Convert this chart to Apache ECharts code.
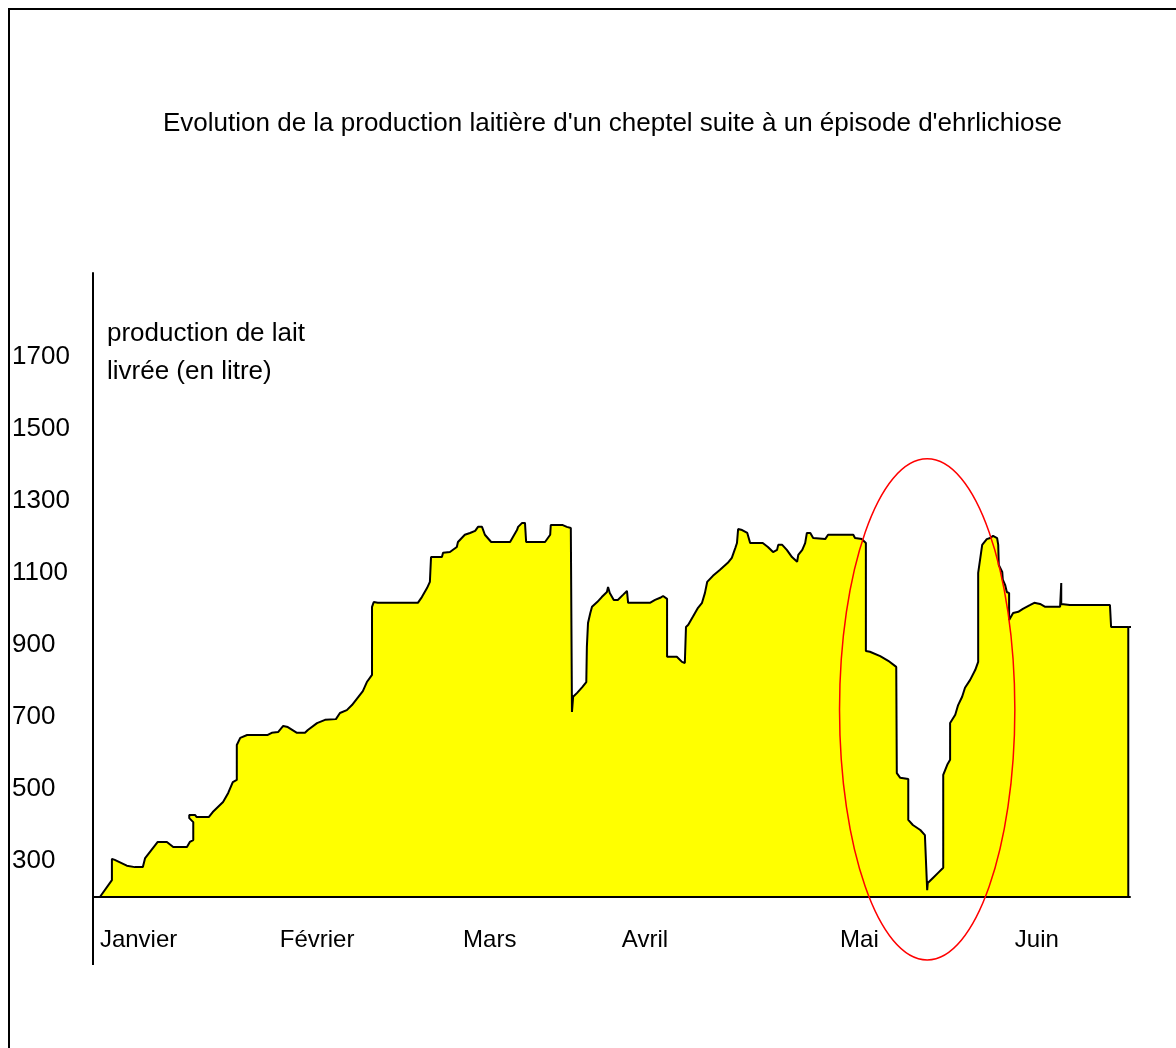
<!DOCTYPE html>
<html>
<head>
<meta charset="utf-8">
<script src="https://cdn.jsdelivr.net/npm/echarts@6/dist/echarts.min.js"></script>
<style>
  html, body { margin: 0; padding: 0; background: #ffffff; }
  #chart { width: 1176px; height: 1048px; }
</style>
</head>
<body>
<div id="chart"></div>
<script>
// ---- Texts ----
const titleText = "Evolution de la production laitière d'un cheptel suite à un épisode d'ehrlichiose";
const yAxisNameLines = ['production de lait', 'livrée (en litre)'];

// ---- Axis labels ----
const monthLabels = ['Janvier', 'Février', 'Mars', 'Avril', 'Mai', 'Juin'];
const monthLabelDays = [1.2, 32.6, 64.6, 92.3, 130.4, 160.9];
const yTickLabels = [300, 500, 700, 900, 1100, 1300, 1500, 1700];

// ---- Milk delivered: day of the year (from 1 January) and litres ----
const productionDays = [
  0, 1.2, 3.3, 3.3, 3.8, 5.9, 7.3, 8.7, 9.1, 11.3,
  12.9, 14.0, 16.4, 16.9, 17.5, 17.5, 16.8, 16.8, 17.8, 18.1,
  20.2, 20.9, 22.7, 23.6, 24.4, 25.1, 25.1, 25.7, 26.9, 30.5,
  31.2, 32.3, 33.2, 34.0, 35.6, 37.0, 37.5, 39.1, 40.5, 42.4,
  43.1, 44.3, 45.2, 47.1, 47.8, 48.7, 48.7, 49.0, 49.7, 56.7,
  57.4, 58.3, 58.8, 59.0, 60.9, 61.1, 62.3, 63.5, 63.7, 64.9,
  65.8, 66.7, 67.2, 67.9, 68.4, 69.5, 72.8, 73.3, 74.0, 74.2,
  74.9, 75.4, 75.6, 78.9, 79.8, 79.9, 82.0, 82.7, 83.4, 83.6,
  83.8, 84.5, 85.4, 86.1, 86.2, 86.4, 86.8, 87.1, 88.0, 88.8,
  89.7, 89.9, 90.2, 90.9, 91.6, 92.5, 93.2, 93.4, 97.2, 98.1,
  99.0, 99.5, 100.2, 100.2, 101.9, 102.8, 103.3, 103.5, 103.9, 104.7,
  105.6, 106.3, 106.8, 107.2, 108.2, 109.4, 110.8, 111.5, 112.1, 112.4,
  112.6, 113.3, 114.2, 114.7, 116.9, 117.8, 118.7, 119.4, 119.6, 120.3,
  121.1, 122.0, 122.9, 123.1, 123.8, 124.3, 124.6, 125.2, 125.7, 127.8,
  128.3, 132.7, 133.0, 134.2, 134.9, 134.9, 135.6, 137.4, 138.8, 140.2,
  140.3, 140.9, 142.3, 142.3, 143.1, 144.4, 145.2, 145.6, 145.7, 146.6,
  147.5, 148.4, 148.4, 149.1, 149.6, 149.6, 150.5, 151.0, 151.7, 152.2,
  153.1, 154.0, 154.5, 154.5, 155.2, 156.0, 156.6, 157.1, 157.8, 158.0,
  158.1, 158.7, 158.8, 159.2, 159.5, 159.9, 159.9, 160.6, 161.5, 162.3,
  163.6, 164.3, 165.3, 166.2, 168.8, 169.0, 169.0, 169.3, 170.5, 177.5,
  177.7, 180.7, 180.7
];
const productionLitres = [
  200, 200, 247, 306, 303, 287, 283, 283, 308, 353,
  353, 339, 339, 353, 358, 408, 419, 428, 428, 422,
  422, 436, 464, 489, 519, 525, 622, 642, 650, 650,
  656, 658, 675, 672, 656, 656, 664, 683, 692, 694,
  711, 719, 733, 772, 797, 817, 1006, 1019, 1017, 1017,
  1033, 1058, 1075, 1144, 1144, 1156, 1158, 1172, 1186, 1206,
  1211, 1217, 1228, 1228, 1206, 1186, 1186, 1200, 1219, 1228,
  1239, 1239, 1186, 1186, 1206, 1233, 1233, 1228, 1225, 714,
  756, 767, 783, 797, 894, 961, 989, 1006, 1019, 1033,
  1047, 1061, 1044, 1025, 1025, 1039, 1050, 1017, 1017, 1025,
  1031, 1036, 1028, 867, 867, 853, 850, 950, 956, 978,
  1003, 1017, 1044, 1075, 1092, 1108, 1128, 1142, 1169, 1183,
  1222, 1219, 1211, 1183, 1183, 1172, 1158, 1164, 1178, 1178,
  1164, 1144, 1131, 1150, 1164, 1183, 1211, 1211, 1197, 1194,
  1206, 1206, 1197, 1194, 1183, 883, 881, 869, 856, 839,
  544, 531, 528, 414, 400, 386, 372, 219, 239, 253,
  267, 281, 539, 567, 581, 683, 706, 733, 756, 781,
  803, 831, 853, 1100, 1178, 1194, 1197, 1203, 1197, 1178,
  1122, 1103, 1081, 1067, 1047, 1044, 969, 989, 992, 1000,
  1011, 1017, 1014, 1006, 1006, 1072, 1014, 1017, 1011, 1011,
  950, 950, 200
];

// Last delivery trace, drawn past the end of the filled period
const tailDays = [180.7, 182.2, 182.2];
const tailLitres = [950, 950, 961];

// Ellipse around the drop in May (centre and half-extent in day / litre units)
const dropCentre = [145.6, 721];
const dropHalfExtent = [15.3, 696];

const FONT = '"Liberation Sans", Arial, sans-serif';

const productionPoints = productionDays.map((d, i) => [d, productionLitres[i]]);
const tailPoints = tailDays.map((d, i) => [d, tailLitres[i]]);

const chart = echarts.init(document.getElementById('chart'), null, { renderer: 'canvas' });

chart.setOption({
  animation: false,
  backgroundColor: '#ffffff',
  textStyle: { fontFamily: FONT, color: '#000' },
  title: {
    text: titleText,
    left: 158,
    top: 106,
    textStyle: { fontFamily: FONT, fontSize: 26, fontWeight: 'normal', color: '#000' }
  },
  grid: { left: 93, top: 273, width: 1037, height: 624, containLabel: false },
  xAxis: {
    type: 'value',
    min: 0,
    max: 181,
    z: 4,
    axisLine: { show: true, lineStyle: { color: '#000', width: 2 } },
    axisTick: { show: false },
    splitLine: { show: false },
    axisLabel: {
      customValues: monthLabelDays,
      formatter: (v) => {
        const i = monthLabelDays.indexOf(v);
        return i >= 0 ? monthLabels[i] : '';
      },
      align: 'left',
      verticalAlign: 'middle',
      margin: 43,
      fontSize: 24,
      fontFamily: FONT,
      color: '#000'
    }
  },
  yAxis: {
    type: 'value',
    min: 200,
    max: 1933,
    interval: 100,
    z: 4,
    name: yAxisNameLines.join('\n'),
    nameLocation: 'end',
    nameGap: -80,
    nameMoveOverlap: false,
    nameTextStyle: {
      align: 'left',
      verticalAlign: 'middle',
      lineHeight: 38,
      fontSize: 26,
      fontFamily: FONT,
      color: '#000',
      padding: [0, 0, 0, 14]
    },
    axisLine: { show: true, lineStyle: { color: '#000', width: 2 } },
    axisTick: { show: false },
    splitLine: { show: false },
    axisLabel: {
      formatter: (v) => (yTickLabels.indexOf(v) >= 0 ? String(v) : ''),
      align: 'left',
      margin: 81,
      fontSize: 26,
      fontFamily: FONT,
      color: '#000',
      showMinLabel: true,
      showMaxLabel: true
    }
  },
  series: [
    {
      name: 'production',
      type: 'line',
      data: productionPoints,
      showSymbol: false,
      symbol: 'none',
      silent: true,
      lineStyle: { color: '#000', width: 2 },
      areaStyle: { color: '#ffff00', opacity: 1, origin: 'start' },
      z: 2
    },
    {
      name: 'fin',
      type: 'line',
      data: tailPoints,
      showSymbol: false,
      symbol: 'none',
      silent: true,
      clip: false,
      lineStyle: { color: '#000', width: 2 },
      z: 2
    },
    {
      name: 'chute',
      type: 'custom',
      silent: true,
      clip: false,
      z: 5,
      data: [[dropCentre[0], dropCentre[1]]],
      encode: { x: 0, y: 1 },
      renderItem: (params, api) => {
        const c = api.coord([api.value(0), api.value(1)]);
        const s = api.size([dropHalfExtent[0], dropHalfExtent[1]]);
        return {
          type: 'ellipse',
          shape: { cx: c[0], cy: c[1], rx: s[0], ry: s[1] },
          style: { fill: null, stroke: '#ff0000', lineWidth: 1.5 }
        };
      }
    }
  ]
});

// Vertical axis continues a little below the horizontal axis; page frame on top and left
const origin = chart.convertToPixel({ gridIndex: 0 }, [0, 200]);
chart.setOption({
  graphic: [
    {
      type: 'line',
      shape: { x1: origin[0], y1: origin[1], x2: origin[0], y2: origin[1] + 68 },
      style: { stroke: '#000', lineWidth: 2 },
      silent: true
    },
    {
      type: 'line',
      shape: { x1: 9, y1: 9, x2: 1176, y2: 9 },
      style: { stroke: '#000', lineWidth: 2 },
      silent: true
    },
    {
      type: 'line',
      shape: { x1: 9, y1: 8, x2: 9, y2: 1048 },
      style: { stroke: '#000', lineWidth: 2 },
      silent: true
    }
  ]
});
</script>
</body>
</html>
